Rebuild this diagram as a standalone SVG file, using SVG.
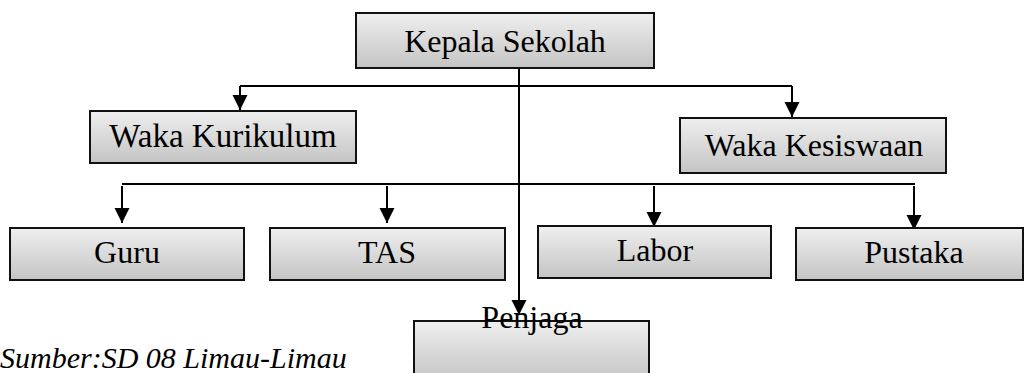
<svg xmlns="http://www.w3.org/2000/svg" width="1025" height="373" viewBox="0 0 1025 373">
<style>
.box{stroke:#111;stroke-width:2;fill:url(#g)}
.t{font-family:"Liberation Serif","Times New Roman",serif;font-size:32px;fill:#000;text-anchor:middle}
.ln{stroke:#000;stroke-width:2;fill:none}
.ar{stroke:#000;stroke-width:2;fill:none;marker-end:url(#ah)}
</style>
<defs>
<linearGradient id="g" x1="0" y1="0" x2="0" y2="1">
<stop offset="0" stop-color="#efefef"/>
<stop offset="1" stop-color="#c4c4c4"/>
</linearGradient>
<marker id="ah" markerUnits="userSpaceOnUse" markerWidth="16" markerHeight="16" viewBox="0 0 16 16" refX="15" refY="8" orient="auto">
<path d="M0,0.5 L15,8 L0,15.5 Z" fill="#000"/>
</marker>
</defs>
<g id="connectors">
<path class="ln" d="M240,86 H792"/>
<path class="ar" d="M240,86 V110"/>
<path class="ar" d="M792,86 V117"/>
<path class="ar" d="M519,68 V315"/>
<path class="ln" d="M122,184 H915"/>
<path class="ar" d="M122,186 V223"/>
<path class="ar" d="M387,186 V223"/>
<path class="ar" d="M654,186 V227"/>
<path class="ar" d="M914,186 V230"/>
</g>
<g id="kepala">
<rect class="box" x="356" y="13" width="298" height="55"/>
<text class="t" x="505" y="52">Kepala Sekolah</text>
</g>
<g id="waka-kurikulum">
<rect class="box" x="90" y="111" width="266" height="52"/>
<text class="t" x="223" y="147" style="font-size:33px">Waka Kurikulum</text>
</g>
<g id="waka-kesiswaan">
<rect class="box" x="680" y="118" width="266" height="55"/>
<text class="t" x="814" y="156">Waka Kesiswaan</text>
</g>
<g id="guru">
<rect class="box" x="10" y="228" width="234" height="52"/>
<text class="t" x="127" y="263">Guru</text>
</g>
<g id="tas">
<rect class="box" x="270" y="228" width="235" height="52"/>
<text class="t" x="387" y="263">TAS</text>
</g>
<g id="labor">
<rect class="box" x="538" y="226" width="233" height="52"/>
<text class="t" x="655" y="261">Labor</text>
</g>
<g id="pustaka">
<rect class="box" x="796" y="228" width="227" height="52"/>
<text class="t" x="914" y="263">Pustaka</text>
</g>
<g id="penjaga">
<rect class="box" x="414" y="321" width="235" height="60"/>
<text class="t" x="532" y="328">Penjaga</text>
</g>
<text x="0" y="368" style="font-family:'Liberation Serif','Times New Roman',serif;font-size:30px;font-style:italic;fill:#000">Sumber:SD 08 Limau-Limau</text>
</svg>
